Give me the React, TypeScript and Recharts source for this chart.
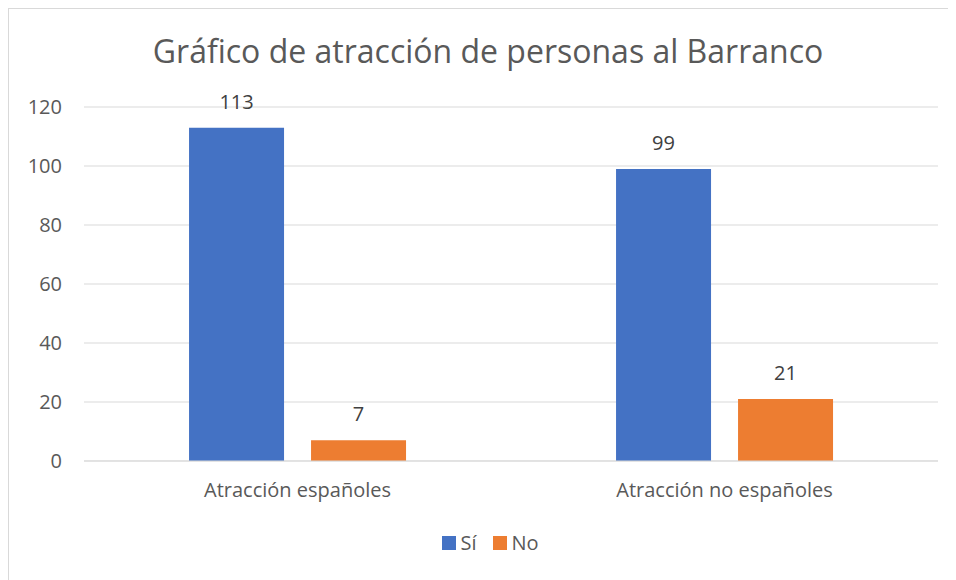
import React from "react";
import { Bar, BarChart, CartesianGrid, LabelList, Legend, XAxis, YAxis } from "recharts";

const categories = ["Atracción españoles", "Atracción no españoles"];
const siValues = [113, 99];
const noValues = [7, 21];
const yTicks = [0, 20, 40, 60, 80, 100, 120];
const seriesNames = ["Sí", "No"];
const seriesColors = ["#4472C4", "#ED7D31"];

const data = categories.map((name, i) => ({ name, si: siValues[i], no: noValues[i] }));

const FONT = "'Open Sans', Lato, sans-serif";
const GRAY = "#595959";

function LegendBox() {
  return (
    <div style={{ display: "flex", justifyContent: "center", marginLeft: 34, marginTop: 2, fontSize: 20, fontFamily: FONT }}>
      {seriesNames.map((n, i) => (
        <div key={n} style={{ display: "flex", alignItems: "center", marginRight: i === 0 ? 17 : 0 }}>
          <span style={{ width: 14, height: 14, background: seriesColors[i], marginRight: 4, display: "inline-block" }} />
          <span style={{ color: GRAY }}>{n}</span>
        </div>
      ))}
    </div>
  );
}

export default function App() {
  return (
    <div
      style={{
        position: "relative",
        width: 960,
        height: 590,
        border: "1px solid #d9d9d9",
        fontFamily: FONT,
        background: "#fff",
      }}
    >
      <div
        style={{
          position: "absolute",
          top: 20,
          left: 0,
          width: 958,
          textAlign: "center",
          fontSize: 32,
          color: GRAY,
          fontFamily: FONT,
          whiteSpace: "nowrap",
        }}
      >
        Gráfico de atracción de personas al Barranco
      </div>
      <BarChart
        width={948}
        height={575}
        data={data}
        margin={{ top: 98, right: 19, left: 0, bottom: 28 }}
        barGap={27}
        barCategoryGap="24.6%"
      >
        <CartesianGrid vertical={false} stroke="#d9d9d9" />
        <XAxis
          dataKey="name"
          tickLine={false}
          axisLine={{ stroke: "#d9d9d9" }}
          tick={{ fill: GRAY, fontSize: 20, fontFamily: FONT }}
          tickMargin={16}
          height={66}
        />
        <YAxis
          domain={[0, 120]}
          ticks={yTicks}
          width={75}
          tickLine={false}
          axisLine={false}
          tickMargin={16}
          tick={{ fill: GRAY, fontSize: 20, fontFamily: FONT }}
        />
        <Legend verticalAlign="bottom" content={() => <LegendBox />} />
        <Bar dataKey="si" name="Sí" fill={seriesColors[0]} isAnimationActive={false}>
          <LabelList dataKey="si" position="top" offset={19} fill="#404040" fontSize={20} fontFamily={FONT} />
        </Bar>
        <Bar dataKey="no" name="No" fill={seriesColors[1]} isAnimationActive={false}>
          <LabelList dataKey="no" position="top" offset={19} fill="#404040" fontSize={20} fontFamily={FONT} />
        </Bar>
      </BarChart>
    </div>
  );
}
